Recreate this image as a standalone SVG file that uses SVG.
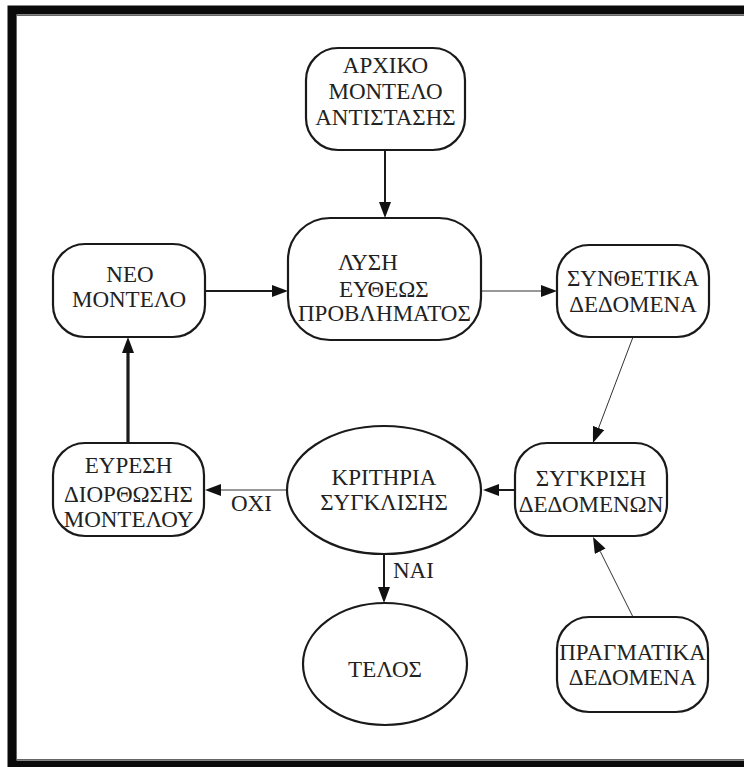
<svg xmlns="http://www.w3.org/2000/svg" width="744" height="767" viewBox="0 0 744 767">
<style>
  .box { fill: #fff; stroke: #1a1a1a; stroke-width: 2.2; }
  .t { font-family: "Liberation Serif", "Times New Roman", serif; font-size: 23px; fill: #222; text-anchor: middle; }
  .tl { font-family: "Liberation Serif", "Times New Roman", serif; font-size: 23px; fill: #222; text-anchor: start; }
  .c { fill: none; stroke: #1a1a1a; }
  .thin { stroke-width: 1; stroke: #333; }
  .med { stroke-width: 2; }
  .thick { stroke-width: 3.2; }
</style>
<defs>
  <marker id="ah" viewBox="0 0 16 12" refX="0" refY="6" markerWidth="16" markerHeight="12" markerUnits="userSpaceOnUse" orient="auto">
    <path d="M0,0 L16,6 L0,12 z" fill="#111"/>
  </marker>
</defs>
<rect x="12" y="10" width="800" height="755" fill="#fff" stroke="#0a0a0a" stroke-width="9"/>
<rect x="16.5" y="15.5" width="800" height="744" fill="none" stroke="#666" stroke-width="1"/>

<g id="connectors">
  <path class="c med" d="M385,150 L385,202" marker-end="url(#ah)"/>
  <path class="c med" d="M205,291 L272,291" marker-end="url(#ah)"/>
  <path class="c thin" d="M481,291 L541,291" marker-end="url(#ah)"/>
  <path class="c thin" d="M633,337 L598.6,428" marker-end="url(#ah)"/>
  <path class="c thin" d="M633,617 L600.2,551.3" marker-end="url(#ah)"/>
  <path class="c med" d="M515,490 L499,490" marker-end="url(#ah)"/>
  <path class="c thin" d="M287,490 L221,490" marker-end="url(#ah)"/>
  <path class="c thick" d="M128,443 L128,353" marker-end="url(#ah)"/>
  <path class="c med" d="M384,553 L384,587" marker-end="url(#ah)"/>
  <text class="tl" x="231" y="511">ΟΧΙ</text>
  <text class="tl" x="393" y="578">ΝΑΙ</text>
</g>

<g id="arxiko">
  <rect class="box" x="306" y="48" width="159" height="102" rx="32"/>
  <text class="t" x="385.5" y="73">ΑΡΧΙΚΟ</text>
  <text class="t" x="385.5" y="99">ΜΟΝΤΕΛΟ</text>
  <text class="t" x="385.5" y="125">ΑΝΤΙΣΤΑΣΗΣ</text>
</g>

<g id="lysi">
  <rect class="box" x="288" y="218" width="193" height="122" rx="42"/>
  <text class="tl" x="338" y="270">ΛΥΣΗ</text>
  <text class="tl" x="339" y="297">ΕΥΘΕΩΣ</text>
  <text class="tl" x="298" y="321">ΠΡΟΒΛΗΜΑΤΟΣ</text>
</g>

<g id="neo">
  <rect class="box" x="53" y="244" width="152" height="93" rx="32"/>
  <text class="t" x="130" y="282">ΝΕΟ</text>
  <text class="t" x="129" y="307">ΜΟΝΤΕΛΟ</text>
</g>

<g id="synthetika">
  <rect class="box" x="557" y="245" width="152" height="92" rx="32"/>
  <text class="t" x="633" y="286">ΣΥΝΘΕΤΙΚΑ</text>
  <text class="t" x="633" y="312">ΔΕΔΟΜΕΝΑ</text>
</g>

<g id="eyresi">
  <rect class="box" x="53" y="443" width="151" height="93" rx="32"/>
  <text class="t" x="128.5" y="473">ΕΥΡΕΣΗ</text>
  <text class="t" x="128.5" y="502">ΔΙΟΡΘΩΣΗΣ</text>
  <text class="t" x="128.5" y="527">ΜΟΝΤΕΛΟΥ</text>
</g>

<g id="kritiria">
  <ellipse class="box" cx="384" cy="490" rx="97" ry="64"/>
  <text class="t" x="384" y="485">ΚΡΙΤΗΡΙΑ</text>
  <text class="t" x="384" y="510">ΣΥΓΚΛΙΣΗΣ</text>
</g>

<g id="sygkrisi">
  <rect class="box" x="515" y="443" width="152" height="93" rx="32"/>
  <text class="t" x="591" y="486">ΣΥΓΚΡΙΣΗ</text>
  <text class="t" x="591" y="512">ΔΕΔΟΜΕΝΩΝ</text>
</g>

<g id="pragmatika">
  <rect class="box" x="557" y="617" width="151" height="95" rx="32"/>
  <text class="t" x="632.5" y="660">ΠΡΑΓΜΑΤΙΚΑ</text>
  <text class="t" x="632.5" y="685">ΔΕΔΟΜΕΝΑ</text>
</g>

<g id="telos">
  <ellipse class="box" cx="385" cy="664" rx="82" ry="61"/>
  <text class="t" x="385" y="677">ΤΕΛΟΣ</text>
</g>
</svg>
